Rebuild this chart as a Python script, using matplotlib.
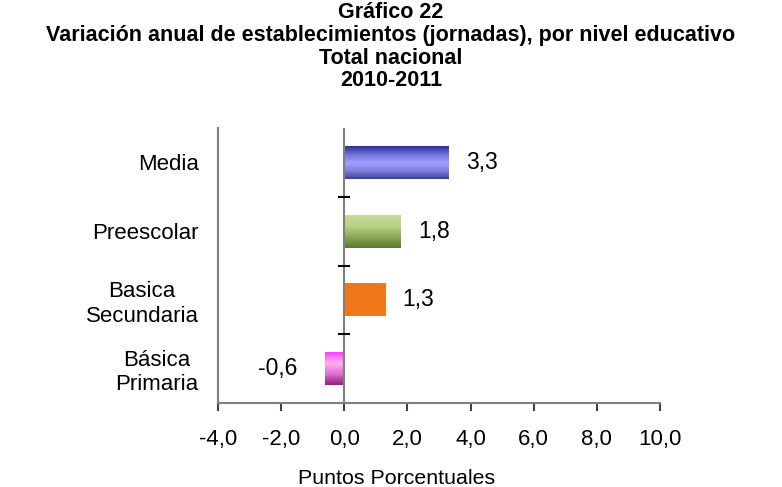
import numpy as np
import matplotlib
matplotlib.use("Agg")
import matplotlib.pyplot as plt
from matplotlib.colors import LinearSegmentedColormap

# data
categories = ["Básica\nPrimaria", "Basica\nSecundaria", "Preescolar", "Media"]
values = [-0.6, 1.3, 1.8, 3.3]
value_labels = ["-0,6", "1,3", "1,8", "3,3"]
xticks = [-4, -2, 0, 2, 4, 6, 8, 10]
xtick_labels = ["-4,0", "-2,0", "0,0", "2,0", "4,0", "6,0", "8,0", "10,0"]
title_lines = [
    "Gráfico 22",
    "Variación anual de establecimientos (jornadas), por nivel educativo",
    "Total nacional",
    "2010-2011",
]
xlabel = "Puntos Porcentuales"

# vertical gradients (top -> bottom)
bar_gradients = [
    ["#ff40ff", "#ffb0f0", "#e070d0", "#902080"],
    ["#f07818", "#f07818"],
    ["#c8dc98", "#b8d088", "#8aa858", "#5c7a30"],
    ["#303090", "#7070d8", "#a0a0ff", "#8080e0", "#404090"],
]

plt.rcParams["font.family"] = ["Liberation Sans", "DejaVu Sans"]

fig = plt.figure(figsize=(7.82, 4.87), dpi=100)
ax = fig.add_axes([218 / 782, 1 - 403 / 487, (660 - 218) / 782, (403 - 128) / 487])

bar_h = 0.48
ypos = np.arange(len(categories))
for y, v, cols in zip(ypos, values, bar_gradients):
    cmap = LinearSegmentedColormap.from_list("g", cols)
    grad = np.linspace(0, 1, 64).reshape(-1, 1)
    x0, x1 = min(0, v), max(0, v)
    ax.imshow(grad, cmap=cmap, aspect="auto", interpolation="bilinear",
              extent=(x0, x1, y - bar_h / 2, y + bar_h / 2), origin="upper", zorder=2)

ax.set_xlim(-4, 10)
ax.set_ylim(-0.5, 3.5)

for y, v, lab in zip(ypos, values, value_labels):
    if v >= 0:
        ax.text(v + 0.55, y, lab, ha="left", va="center", fontsize=16.5)
    else:
        ax.text(v - 0.9, y, lab, ha="right", va="center", fontsize=16.5)

# zero axis with category separators
ax.axvline(0, color="#808080", lw=1.5, zorder=3)
ax.plot([0] * 3, [0.5, 1.5, 2.5], ls="none", marker="_", ms=8, mew=1.5, color="black", zorder=4)

for side in ["top", "right"]:
    ax.spines[side].set_visible(False)
for side in ["left", "bottom"]:
    ax.spines[side].set_color("#808080")
    ax.spines[side].set_linewidth(1.5)

ax.set_xticks(xticks)
ax.set_xticklabels(xtick_labels, fontsize=16)
ax.tick_params(axis="x", length=6, width=1.5, color="#404040", pad=13)
ax.set_yticks(ypos)
ax.set_yticklabels(categories, fontsize=16, multialignment="center")
ax.tick_params(axis="y", length=0, pad=14)

fig.text(397 / 782, 1 - 478 / 487, xlabel, ha="center", va="center", fontsize=15.4)

title_y = [13, 35, 58, 80]
for line, ty in zip(title_lines, title_y):
    fig.text(0.5, 1 - ty / 487, line, ha="center", va="center", fontsize=15.5,
             fontweight="bold", family=["Liberation Sans Narrow", "Liberation Sans", "DejaVu Sans"])

fig.savefig("out.png", dpi=100)
